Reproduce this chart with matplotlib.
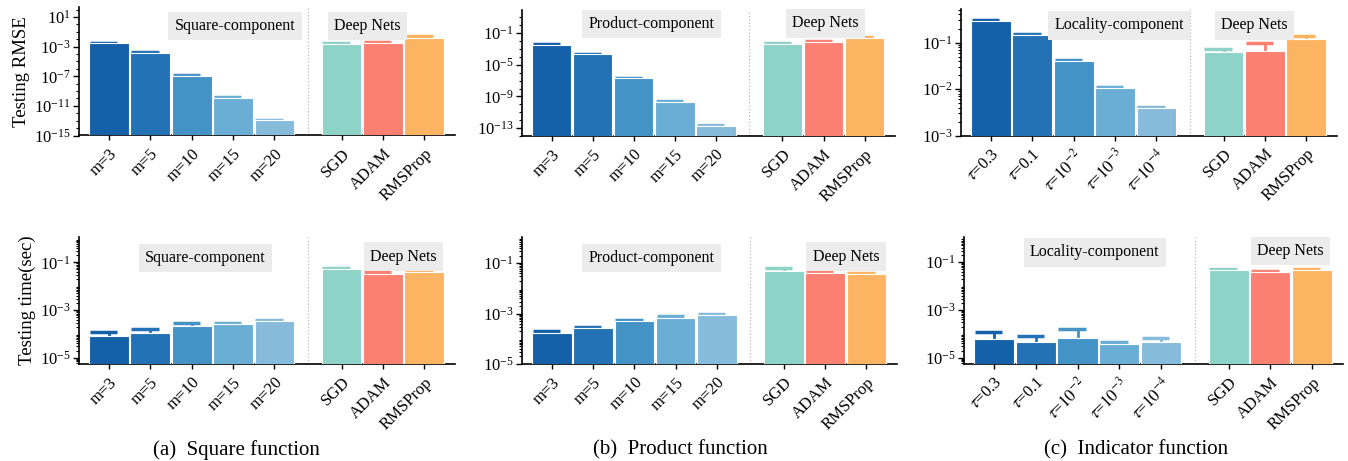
import numpy as np
import matplotlib
matplotlib.use("Agg")
import matplotlib.pyplot as plt
from matplotlib.ticker import FixedLocator, LogLocator, NullFormatter

plt.rcParams["font.family"] = ["Liberation Serif", "DejaVu Serif"]
plt.rcParams["mathtext.fontset"] = "stix"

# ---- data -------------------------------------------------------------
m_labels = ["m=3", "m=5", "m=10", "m=15", "m=20"]
tau_labels = [r"$\tau$=0.3", r"$\tau$=0.1", r"$\tau$=$10^{-2}$",
              r"$\tau$=$10^{-3}$", r"$\tau$=$10^{-4}$"]
net_labels = ["SGD", "ADAM", "RMSProp"]

# square function
sq_rmse = [3.0e-3, 1.6e-4, 1.25e-7, 1.3e-10, 1.1e-13, 2.5e-3, 3.3e-3, 1.7e-2]
sq_rmse_err = [0.5e-3, 0.3e-4, 0.25e-7, 0.3e-10, 0.3e-13, 0.5e-3, 0.8e-3, 0.9e-2]
sq_time = [7.9e-5, 1.05e-4, 2.1e-4, 2.6e-4, 3.4e-4, 5.1e-2, 3.2e-2, 3.8e-2]
sq_time_err = [4.4e-5, 5.0e-5, 8.5e-5, 3e-5, 3e-5, 8e-3, 6e-3, 5e-3]

# product function
pr_rmse = [3.3e-3, 2.2e-4, 2.1e-7, 2.1e-10, 2.1e-13, 4.9e-3, 7.9e-3, 2.3e-2]
pr_rmse_err = [0.7e-3, 0.5e-4, 0.4e-7, 0.5e-10, 0.5e-13, 1.0e-3, 3e-3, 0.6e-2]
pr_time = [1.7e-4, 2.6e-4, 4.9e-4, 7.0e-4, 8.9e-4, 4.95e-2, 4.0e-2, 3.8e-2]
pr_time_err = [2.5e-5, 3e-5, 6e-5, 7e-5, 1.1e-4, 1.75e-2, 5.5e-3, 4.5e-3]

# indicator function
in_rmse = [0.293, 0.148, 0.040, 0.0105, 0.0040, 0.062, 0.065, 0.118]
in_rmse_err = [0.017, 0.007, 0.002, 0.0005, 0.0002, 0.012, 0.035, 0.017]
in_time = [6.3e-5, 4.7e-5, 6.5e-5, 3.6e-5, 4.6e-5, 4.6e-2, 3.9e-2, 4.6e-2]
in_time_err = [6e-5, 3.4e-5, 9.5e-5, 1.1e-5, 2.3e-5, 8e-3, 4e-3, 5e-3]

# ---- style ------------------------------------------------------------
blues = ["#1561a9", "#2272b5", "#4393c7", "#6aaed6", "#87bbdb"]
nets = ["#8dd3c7", "#fb8072", "#fdb462"]
colors = blues + nets

xpos = np.r_[np.arange(5), np.arange(3) + 5.62]
sep_x = 4.81

W, H = 1348, 461
fig = plt.figure(figsize=(W / 100, H / 100), dpi=100)


def px_axes(l, t, r, b):
    return fig.add_axes([l / W, 1 - b / H, (r - l) / W, (b - t) / H])


def panel(ax, vals, errs, labels, ylim, majors, minor_subs, comp_name,
          comp_xy, nets_xy, ylabel=None):
    ax.set_yscale("log")
    ax.bar(xpos, vals, width=0.96, color=colors, edgecolor="white",
           linewidth=0.8, zorder=3)
    # upper error bars only: stem + cap
    for x, v, e, c in zip(xpos, vals, errs, colors):
        ax.vlines(x, v, v + e, color=c, linewidth=2, zorder=2)
        ax.hlines(v + e, x - 0.46, x + 0.2, color=c, linewidth=2.5, zorder=2)
    ax.axvline(sep_x, color="#bbbbbb", linestyle=":", linewidth=0.9, zorder=1)
    ax.set_xlim(-0.72, 8.36)
    ax.set_ylim(*ylim)
    ax.yaxis.set_major_locator(FixedLocator(majors))
    ax.yaxis.set_minor_locator(LogLocator(base=10, subs=minor_subs, numticks=60))
    ax.yaxis.set_minor_formatter(NullFormatter())
    ax.set_xticks(xpos)
    ax.set_xticklabels(labels + net_labels, rotation=45, ha="right",
                       va="top", rotation_mode="anchor", fontsize=12)
    ax.tick_params(axis="y", labelsize=12, length=4, width=1, pad=2)
    ax.tick_params(axis="y", which="minor", length=2, width=0.8)
    ax.tick_params(axis="x", length=3.5, width=1, pad=4)
    for s in ("top", "right"):
        ax.spines[s].set_visible(False)
    for s in ("left", "bottom"):
        ax.spines[s].set_linewidth(1.2)
    box = dict(boxstyle="square,pad=0.4", facecolor="#ececec", edgecolor="none")
    ax.text(*comp_xy, comp_name, transform=ax.transAxes, ha="center",
            va="center", fontsize=11.5, bbox=box, zorder=5)
    ax.text(*nets_xy, "Deep Nets", transform=ax.transAxes, ha="center",
            va="center", fontsize=11.5, bbox=box, zorder=5)
    if ylabel:
        ax.set_ylabel(ylabel, fontsize=13.5, labelpad=3)


decades = lambda lo, hi, step: [10.0 ** k for k in range(lo, hi + 1, step)]
dense = np.arange(2, 10) * 1.0

ax = px_axes(79, 7, 455, 135.5)
panel(ax, sq_rmse, sq_rmse_err, m_labels, (1e-15, 10 ** 2.36),
      decades(-15, 1, 4), (1.0,), "Square-component", (0.415, 0.852),
      (0.767, 0.852), ylabel="Testing RMSE")
ax = px_axes(79, 237, 455, 364)
panel(ax, sq_time, sq_time_err, m_labels, (10 ** -5.26, 10 ** 0.06),
      decades(-5, -1, 2), dense, "Square-component", (0.336, 0.835),
      (0.863, 0.846), ylabel="Testing time(sec)")

ax = px_axes(522, 10, 895, 136)
panel(ax, pr_rmse, pr_rmse_err, m_labels, (1e-14, 10 ** 1.94),
      decades(-13, -1, 4), (1.0,), "Product-component", (0.348, 0.889),
      (0.814, 0.893))
ax = px_axes(522, 237, 897, 364)
panel(ax, pr_time, pr_time_err, m_labels, (1e-5, 10 ** 0.04),
      decades(-5, -1, 2), dense, "Product-component", (0.345, 0.835),
      (0.864, 0.846))

ax = px_axes(961, 9, 1337, 135.7)
panel(ax, in_rmse, in_rmse_err, tau_labels, (1e-3, 10 ** -0.28),
      decades(-3, -1, 1), dense, "Locality-component", (0.421, 0.87),
      (0.78, 0.872))
ax = px_axes(964, 237, 1343, 364)
panel(ax, in_time, in_time_err, tau_labels, (10 ** -5.26, 10 ** 0.05),
      decades(-5, -1, 2), dense, "Locality-component", (0.345, 0.88),
      (0.861, 0.89))

captions = ["(a)  Square function", "(b)  Product function",
            "(c)  Indicator function"]
for cx, cap in zip([236, 680, 1136], captions):
    fig.text(cx / W, 1 - 450 / H, cap, ha="center", va="center", fontsize=15)

fig.savefig("out.png", dpi=100, facecolor="white")
